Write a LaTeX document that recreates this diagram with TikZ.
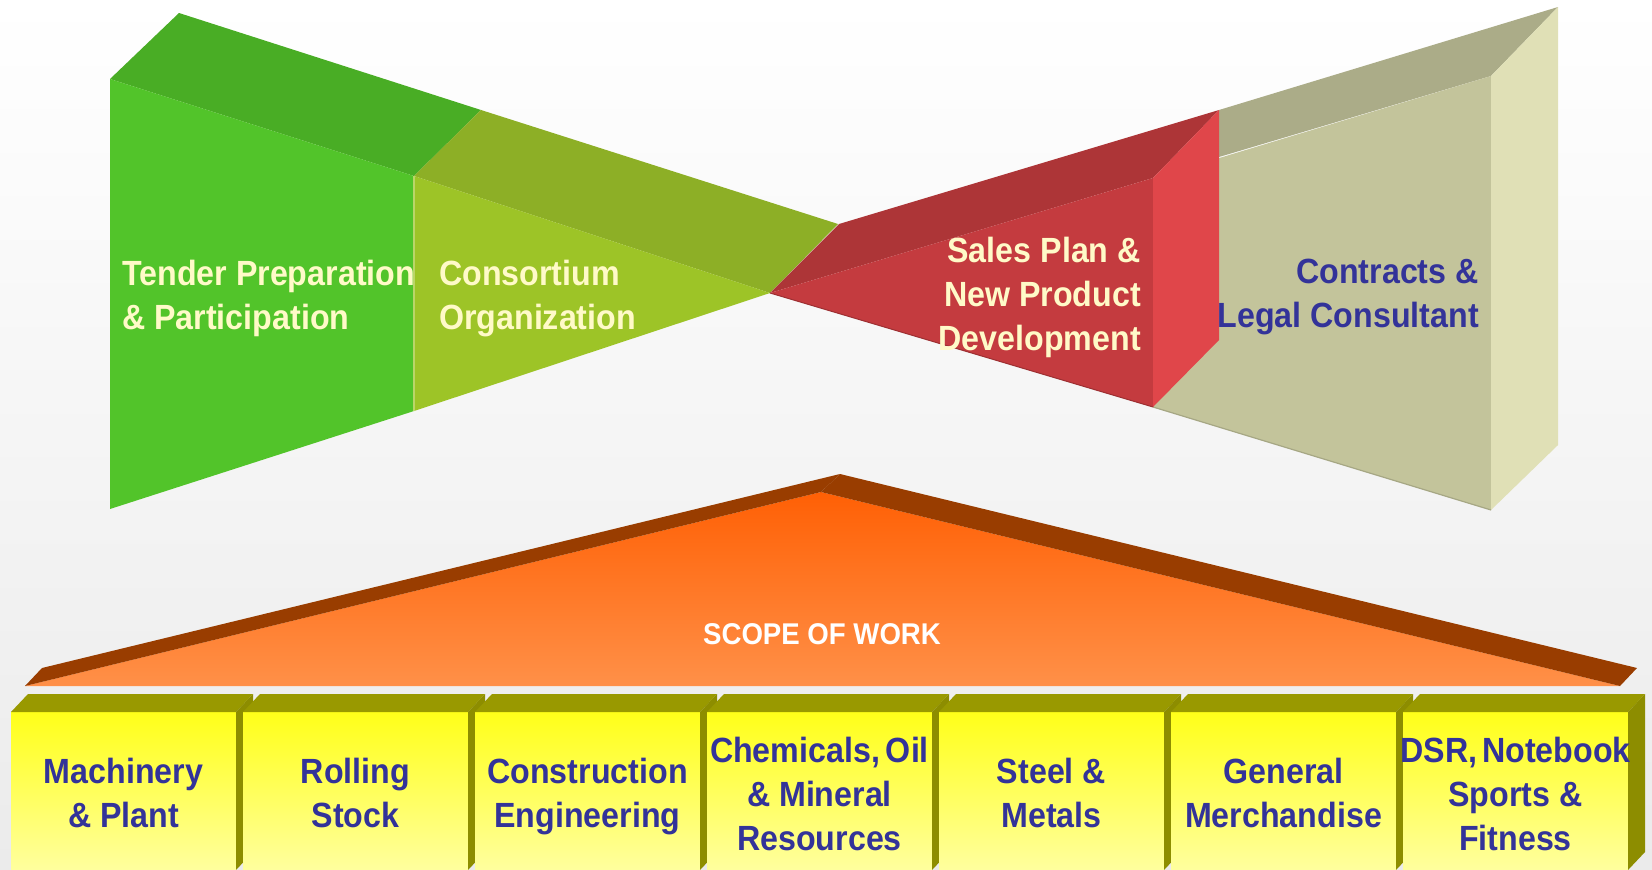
\documentclass[tikz,border=0pt]{standalone}
\usepackage{fontspec}
\setmainfont{Liberation Sans}
\newfontfamily\nar{Liberation Sans}[FakeStretch=0.92]
\definecolor{bgbot}{HTML}{EBEBEB}
\definecolor{grF}{HTML}{52C42A}
\definecolor{grT}{HTML}{49AD25}
\definecolor{olF}{HTML}{9DC427}
\definecolor{olT}{HTML}{8DAF26}
\definecolor{rdF}{HTML}{C43B3F}
\definecolor{rdT}{HTML}{AD3537}
\definecolor{rdS}{HTML}{E0464A}
\definecolor{bgF}{HTML}{C3C49B}
\definecolor{bgT}{HTML}{ABAC88}
\definecolor{bgS}{HTML}{E0E0B6}
\definecolor{cream}{HTML}{FFFAC8}
\definecolor{navy}{HTML}{333399}
\definecolor{brn}{HTML}{993D00}
\definecolor{orTop}{HTML}{FF6005}
\definecolor{orBot}{HTML}{FF9048}
\definecolor{boxTop}{HTML}{FFFF19}
\definecolor{boxBot}{HTML}{FFFF9E}
\definecolor{boxDark}{HTML}{999900}
\tikzset{
  lbl/.style={font=\nar\bfseries\fontsize{35}{44}\selectfont, inner sep=0pt},
  creamtxt/.style={lbl, text=cream},
  navytxt/.style={lbl, text=navy},
  boxtxt/.style={lbl, text=navy, align=center, anchor=base},
}
\begin{document}
\begin{tikzpicture}[x=1pt,y=-1pt]
\useasboundingbox (0,0) rectangle (1652,870);
\clip (0,0) rectangle (1652,870);
\shade[top color=white,bottom color=bgbot] (0,0) rectangle (1652,870);

% left funnel
\fill[grT] (110,79) -- (179,13) -- (481,110) -- (414,176) -- cycle;
\fill[olT] (414,176) -- (481,110) -- (838,224) -- (770,293) -- cycle;
\fill[grF] (110,79) -- (414,176) -- (414,411) -- (110,509) -- cycle;
\fill[olF] (414,176) -- (770,293) -- (414,411) -- cycle;
\draw[olF!70!white, line width=1.2] (414,176) -- (414,411);

% right funnel
\fill[rdT] (770,293) -- (839,224) -- (1219,110) -- (1153,178) -- cycle;
\fill[bgT] (1219,110) -- (1558,7) -- (1491,76) -- (1219,157) -- cycle;
\fill[bgF] (1153,178) -- (1491,76) -- (1491,510) -- (1153,407) -- cycle;
\fill[bgS] (1491,76) -- (1558,7) -- (1558,445) -- (1491,510) -- cycle;
\draw[bgF!85!black, line width=1.2] (1153,407) -- (1491,510);
\fill[rdF] (770,293) -- (1153,178) -- (1153,407) -- cycle;
\draw[rdF!80!black, line width=1] (770,293) -- (1153,407);
\fill[rdS] (1153,178) -- (1219,110) -- (1219,340) -- (1153,407) -- cycle;

% scope of work triangle
\shade[top color=orTop, bottom color=orBot] (25,686) -- (821,492) -- (1620,686) -- cycle;
\fill[brn] (25,686) -- (42,668) -- (840,474) -- (821,492) -- cycle;
\fill[brn] (821,492) -- (840,474) -- (1637,668) -- (1620,686) -- cycle;

% boxes
\foreach \i in {0,...,6}{
  \pgfmathsetmacro\xa{11+232*\i}
  \shade[top color=boxTop, bottom color=boxBot] (\xa,712) rectangle ({\xa+225},870);
  \fill[boxDark] (\xa,712) -- ({\xa+17},694) -- ({\xa+242},694) -- ({\xa+225},712) -- cycle;
  \fill[boxDark!92!black] ({\xa+225},712) -- ({\xa+242},694) -- ({\xa+242},852) -- ({\xa+225},870) -- cycle;
}

% labels (anchor base = baseline of the last line)
\node[creamtxt, align=left, anchor=base west] (tender) at (122,329) {Tender Preparation\\\& Participation};
\node[creamtxt, align=left, anchor=base west] (cons) at (439,329) {Consortium\\Organization};
\node[creamtxt, align=right, anchor=base east] (sales) at (1141,350) {Sales Plan \&\\New Product\\Development};
\node[navytxt, align=right, anchor=base east] (contr) at (1479,327) {Contracts \&\\Legal Consultant};
\node[lbl, text=white, font=\nar\bfseries\fontsize{30}{36}\selectfont, anchor=base] (scope) at (822,644) {SCOPE OF WORK};

\node[boxtxt] (b1) at (123.5,827) {Machinery\\\& Plant};
\node[boxtxt] (b2) at (355.5,827) {Rolling\\Stock};
\node[boxtxt] (b3) at (587.5,827) {Construction\\Engineering};
\node[boxtxt] (b4) at (819.5,850) {Chemicals,\hspace{-3pt} Oil\\\& Mineral\\Resources};
\node[boxtxt] (b5) at (1051.5,827) {Steel \&\\Metals};
\node[boxtxt] (b6) at (1283.5,827) {General\\Merchandise};
\node[boxtxt] (b7) at (1515.5,850) {DSR,\hspace{-4pt} Notebook\\Sports \&\\Fitness};
\end{tikzpicture}
\end{document}
